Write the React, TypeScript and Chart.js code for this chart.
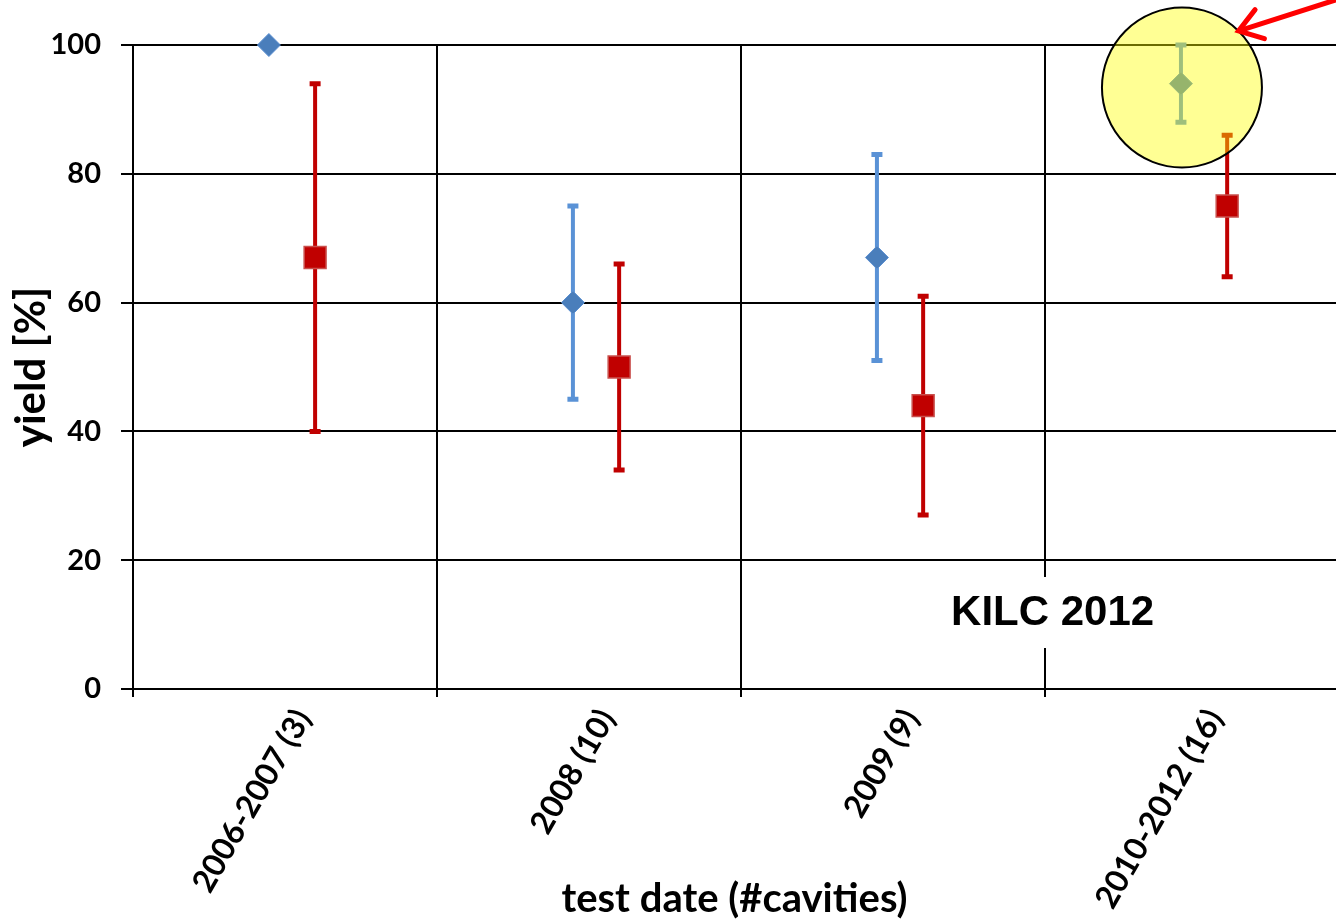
import React, { useEffect, useRef } from 'react';
import { Chart, registerables } from 'chart.js';

Chart.register(...registerables);

// ---- data ----
const categories = ['2006-2007 (3)', '2008 (10)', '2009 (9)', '2010-2012 (16)'];
const blueValues = [100, 60, 67, 94];
const blueLow = [100, 45, 51, 88];
const blueHigh = [100, 75, 83, 100];
const redValues = [67, 50, 44, 75];
const redLow = [40, 34, 27, 64];
const redHigh = [94, 66, 61, 86];
const yTickValues = [0, 20, 40, 60, 80, 100];
const annotationText = 'KILC 2012';
const highlightValue = 93.4;
const xTitle = 'test date (#cavities)';
const yTitle = 'yield [%]';

// ---- layout constants (data space offsets within each category) ----
const BLUE_OFFSET = 0.447;
const RED_OFFSET = 0.599;
const LABEL_OFFSET = 0.56;
const X_MAX = 3.957;

const BLUE = '#4a7ebb';
const BLUE_ERR = '#5a92d6';
const RED = '#c00000';
const LABEL_FONT = 'Lato';

const errorBarPlugin = {
  id: 'errorBars',
  beforeDatasetsDraw(chart: any) {
    const ctx = chart.ctx;
    const sets = [
      { offset: BLUE_OFFSET, low: blueLow, high: blueHigh, color: BLUE_ERR },
      { offset: RED_OFFSET, low: redLow, high: redHigh, color: RED },
    ];
    const xs = chart.scales.x;
    const ys = chart.scales.y;
    ctx.save();
    ctx.lineCap = 'butt';
    sets.forEach((s) => {
      ctx.strokeStyle = s.color;
      categories.forEach((_, i) => {
        if (s.low[i] === s.high[i]) return;
        const x = xs.getPixelForValue(i + s.offset);
        const yl = ys.getPixelForValue(s.low[i]);
        const yh = ys.getPixelForValue(s.high[i]);
        ctx.lineWidth = 4;
        ctx.beginPath();
        ctx.moveTo(x, yl);
        ctx.lineTo(x, yh);
        ctx.stroke();
        ctx.lineWidth = 5;
        ctx.beginPath();
        ctx.moveTo(x - 5.5, yl);
        ctx.lineTo(x + 5.5, yl);
        ctx.moveTo(x - 5.5, yh);
        ctx.lineTo(x + 5.5, yh);
        ctx.stroke();
      });
    });
    ctx.restore();
  },
};

const annotationPlugin = {
  id: 'annotations',
  afterDraw(chart: any) {
    const ctx = chart.ctx;
    const xs = chart.scales.x;
    const ys = chart.scales.y;
    ctx.save();
    // KILC 2012 label box
    const lx = xs.getPixelForValue(3.025);
    const ly = ys.getPixelForValue(11.8);
    ctx.font = 'bold 42px "Liberation Sans", Arial, sans-serif';
    const w = ctx.measureText(annotationText).width;
    ctx.fillStyle = '#ffffff';
    ctx.fillRect(lx - w / 2 - 12, ly - 36, w + 24, 71);
    ctx.fillStyle = '#000000';
    ctx.textAlign = 'center';
    ctx.textBaseline = 'middle';
    ctx.fillText(annotationText, lx, ly);

    // highlight circle
    const cx = xs.getPixelForValue(3 + BLUE_OFFSET) + 1;
    const cy = ys.getPixelForValue(highlightValue);
    const r = 80;
    ctx.beginPath();
    ctx.arc(cx, cy, r, 0, Math.PI * 2);
    ctx.fillStyle = 'rgba(255,255,0,0.42)';
    ctx.fill();
    ctx.lineWidth = 2;
    ctx.strokeStyle = '#000000';
    ctx.stroke();

    // arrow
    const tipX = cx + r * Math.cos(Math.PI / 4);
    const tipY = cy - r * Math.sin(Math.PI / 4);
    const dx = 97, dy = -31;
    const len = Math.hypot(dx, dy);
    const ux = dx / len, uy = dy / len;
    ctx.strokeStyle = '#ff0000';
    ctx.lineWidth = 5;
    ctx.lineCap = 'round';
    ctx.beginPath();
    ctx.moveTo(tipX + ux * 2, tipY + uy * 2);
    ctx.lineTo(tipX + ux * 200, tipY + uy * 200);
    ctx.stroke();
    const ang = Math.atan2(uy, ux);
    const headLen = 27;
    ctx.beginPath();
    ctx.moveTo(tipX + Math.cos(ang - 0.6) * headLen, tipY + Math.sin(ang - 0.6) * headLen);
    ctx.lineTo(tipX, tipY);
    ctx.lineTo(tipX + Math.cos(ang + 0.6) * headLen, tipY + Math.sin(ang + 0.6) * headLen);
    ctx.stroke();
    ctx.restore();
  },
};

const noSidePadding = (s: any) => {
  s.paddingLeft = 0;
  s.paddingRight = 0;
};

export default function App() {
  const ref = useRef<HTMLCanvasElement>(null);

  useEffect(() => {
    if (!ref.current) return;
    const chart = new Chart(ref.current, {
      type: 'scatter',
      data: {
        datasets: [
          {
            label: 'blue',
            data: blueValues.map((v, i) => ({ x: i + BLUE_OFFSET, y: v })),
            pointStyle: 'rectRot',
            pointRadius: 11.5,
            backgroundColor: BLUE,
            borderColor: '#5b8fd0',
            borderWidth: 1,
            showLine: false,
            clip: false,
          },
          {
            label: 'red',
            data: redValues.map((v, i) => ({ x: i + RED_OFFSET, y: v })),
            pointStyle: 'rect',
            pointRadius: 15.5,
            backgroundColor: RED,
            borderColor: '#c9504d',
            borderWidth: 1.5,
            showLine: false,
            clip: false,
          },
        ],
      },
      options: {
        animation: false,
        responsive: false,
        events: [],
        layout: { autoPadding: false, padding: { top: 45, right: 0, bottom: 0, left: 0 } },
        plugins: {
          legend: { display: false },
          tooltip: { enabled: false },
        },
        scales: {
          x: {
            type: 'linear',
            position: 'bottom',
            min: 0,
            max: X_MAX,
            afterBuildTicks: (s: any) => {
              s.ticks = categories.map((_, i) => ({ value: i }));
            },
            ticks: { display: false },
            grid: { color: '#000000', lineWidth: 2, tickLength: 8, drawTicks: true },
            border: { display: false },
            afterFit: (s: any) => {
              s.height = 8;
              noSidePadding(s);
            },
          },
          xl: {
            type: 'linear',
            position: 'bottom',
            axis: 'x',
            min: 0,
            max: X_MAX,
            afterBuildTicks: (s: any) => {
              s.ticks = categories.map((_, i) => ({ value: i + LABEL_OFFSET }));
            },
            ticks: {
              autoSkip: false,
              minRotation: 60,
              maxRotation: 60,
              padding: 6,
              color: '#000000',
              font: { family: LABEL_FONT, weight: 'bold', size: 32 },
              callback: (_v: any, i: number) => categories[i],
            },
            grid: { display: false, drawTicks: false },
            border: { display: false },
            title: {
              display: true,
              text: xTitle,
              color: '#000000',
              font: { family: LABEL_FONT, weight: 'bold', size: 40 },
              padding: { top: 0, bottom: 0 },
            },
            afterFit: (s: any) => {
              s.height = 226;
              noSidePadding(s);
            },
          },
          y: {
            type: 'linear',
            min: 0,
            max: 100,
            afterBuildTicks: (s: any) => {
              s.ticks = yTickValues.map((v) => ({ value: v }));
            },
            ticks: {
              color: '#000000',
              padding: 20,
              font: { family: LABEL_FONT, weight: 'bold', size: 29 },
            },
            grid: { color: '#000000', lineWidth: 2, tickLength: 12 },
            border: { display: false },
            title: {
              display: true,
              text: yTitle,
              color: '#000000',
              font: { family: LABEL_FONT, weight: 'bold', size: 42 },
              padding: { top: 6, bottom: 0 },
            },
            afterFit: (s: any) => {
              s.width = 133;
            },
          },
        },
      },
      plugins: [errorBarPlugin, annotationPlugin],
    } as any);
    return () => chart.destroy();
  }, []);

  return (
    <div style={{ position: 'absolute', left: 0, top: 0, width: 1336, height: 923, background: '#ffffff' }}>
      <canvas ref={ref} width={1336} height={923} style={{ display: 'block' }} />
    </div>
  );
}
